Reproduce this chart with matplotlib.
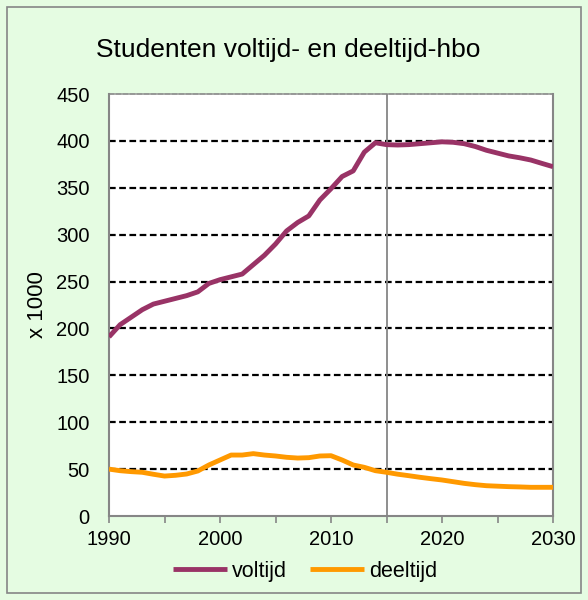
import matplotlib
matplotlib.use("Agg")
import matplotlib.pyplot as plt
from matplotlib.patches import Rectangle

plt.rcParams["font.family"] = ["Liberation Sans", "DejaVu Sans"]

years = list(range(1990, 2031))
voltijd = [191, 204, 212, 220, 226, 229, 232, 235, 239, 248,
           252, 255, 258, 268, 278, 290, 304, 313, 320, 337,
           349, 362, 368, 388, 398, 396, 395.6, 396, 397, 398,
           399, 398.5, 397, 394, 390, 387, 384, 382, 379.6, 376, 372.5]
deeltijd = [50, 48.3, 47.3, 46.6, 44.5, 42.6, 43.4, 44.8, 48, 54.4,
            59.7, 65, 65, 66.5, 65, 64, 62.6, 61.8, 62.2, 64,
            64.3, 59.7, 54.4, 51.9, 48.3, 46.6, 44.6, 43, 41.3, 39.8,
            38.4, 36.6, 34.8, 33.4, 32.3, 31.8, 31.3, 31, 30.6, 30.6, 30.6]

title = "Studenten voltijd- en deeltijd-hbo"
grey = "#868686"

fig = plt.figure(figsize=(5.88, 6.0), dpi=100)
fig.patch.set_facecolor("#e5fce2")
fig.patches.append(Rectangle((7 / 588, 7 / 600), 574 / 588, 586 / 600,
                             transform=fig.transFigure, fill=False,
                             edgecolor=grey, lw=1.2))

ax = fig.add_axes([109 / 588, 84 / 600, 444 / 588, 422 / 600])
ax.set_facecolor("white")

for v in range(50, 450, 50):
    ax.axhline(v, color="black", lw=1.6, dashes=(3, 1.6), zorder=1)
ax.axvline(2015, color=grey, lw=1.3, zorder=1)

ax.plot(years, voltijd, color="#993366", lw=3.5, solid_capstyle="butt",
        label="voltijd", zorder=3)
ax.plot(years, deeltijd, color="#ff9900", lw=3.5, solid_capstyle="butt",
        label="deeltijd", zorder=3)

ax.set_xlim(1990, 2030)
ax.set_ylim(0, 450)
ax.set_xticks(range(1990, 2031, 5))
ax.set_xticklabels([str(y) if y % 10 == 0 else "" for y in range(1990, 2031, 5)])
ax.set_yticks(range(0, 451, 50))
ax.tick_params(axis="x", length=5, width=1.2, color=grey, labelsize=14.5, pad=5)
ax.tick_params(axis="y", length=0, labelsize=14.5, pad=14)

for side in ["left", "bottom", "right"]:
    ax.spines[side].set_color(grey)
    ax.spines[side].set_linewidth(1.5)
ax.spines["top"].set_color(grey)
ax.spines["top"].set_linewidth(1.2)
ax.spines["top"].set_linestyle((0, (3, 1.2)))

ax.set_ylabel("x 1000", fontsize=16, labelpad=6)
fig.text(0.49, 0.917, title, ha="center", va="center", fontsize=19)

fig.legend(loc="center", bbox_to_anchor=(0.519, 0.048), ncol=2, frameon=False,
           fontsize=15.5, handlelength=2.5, handletextpad=0.22, columnspacing=1.1)

fig.savefig("out.png", dpi=100, facecolor=fig.get_facecolor())
